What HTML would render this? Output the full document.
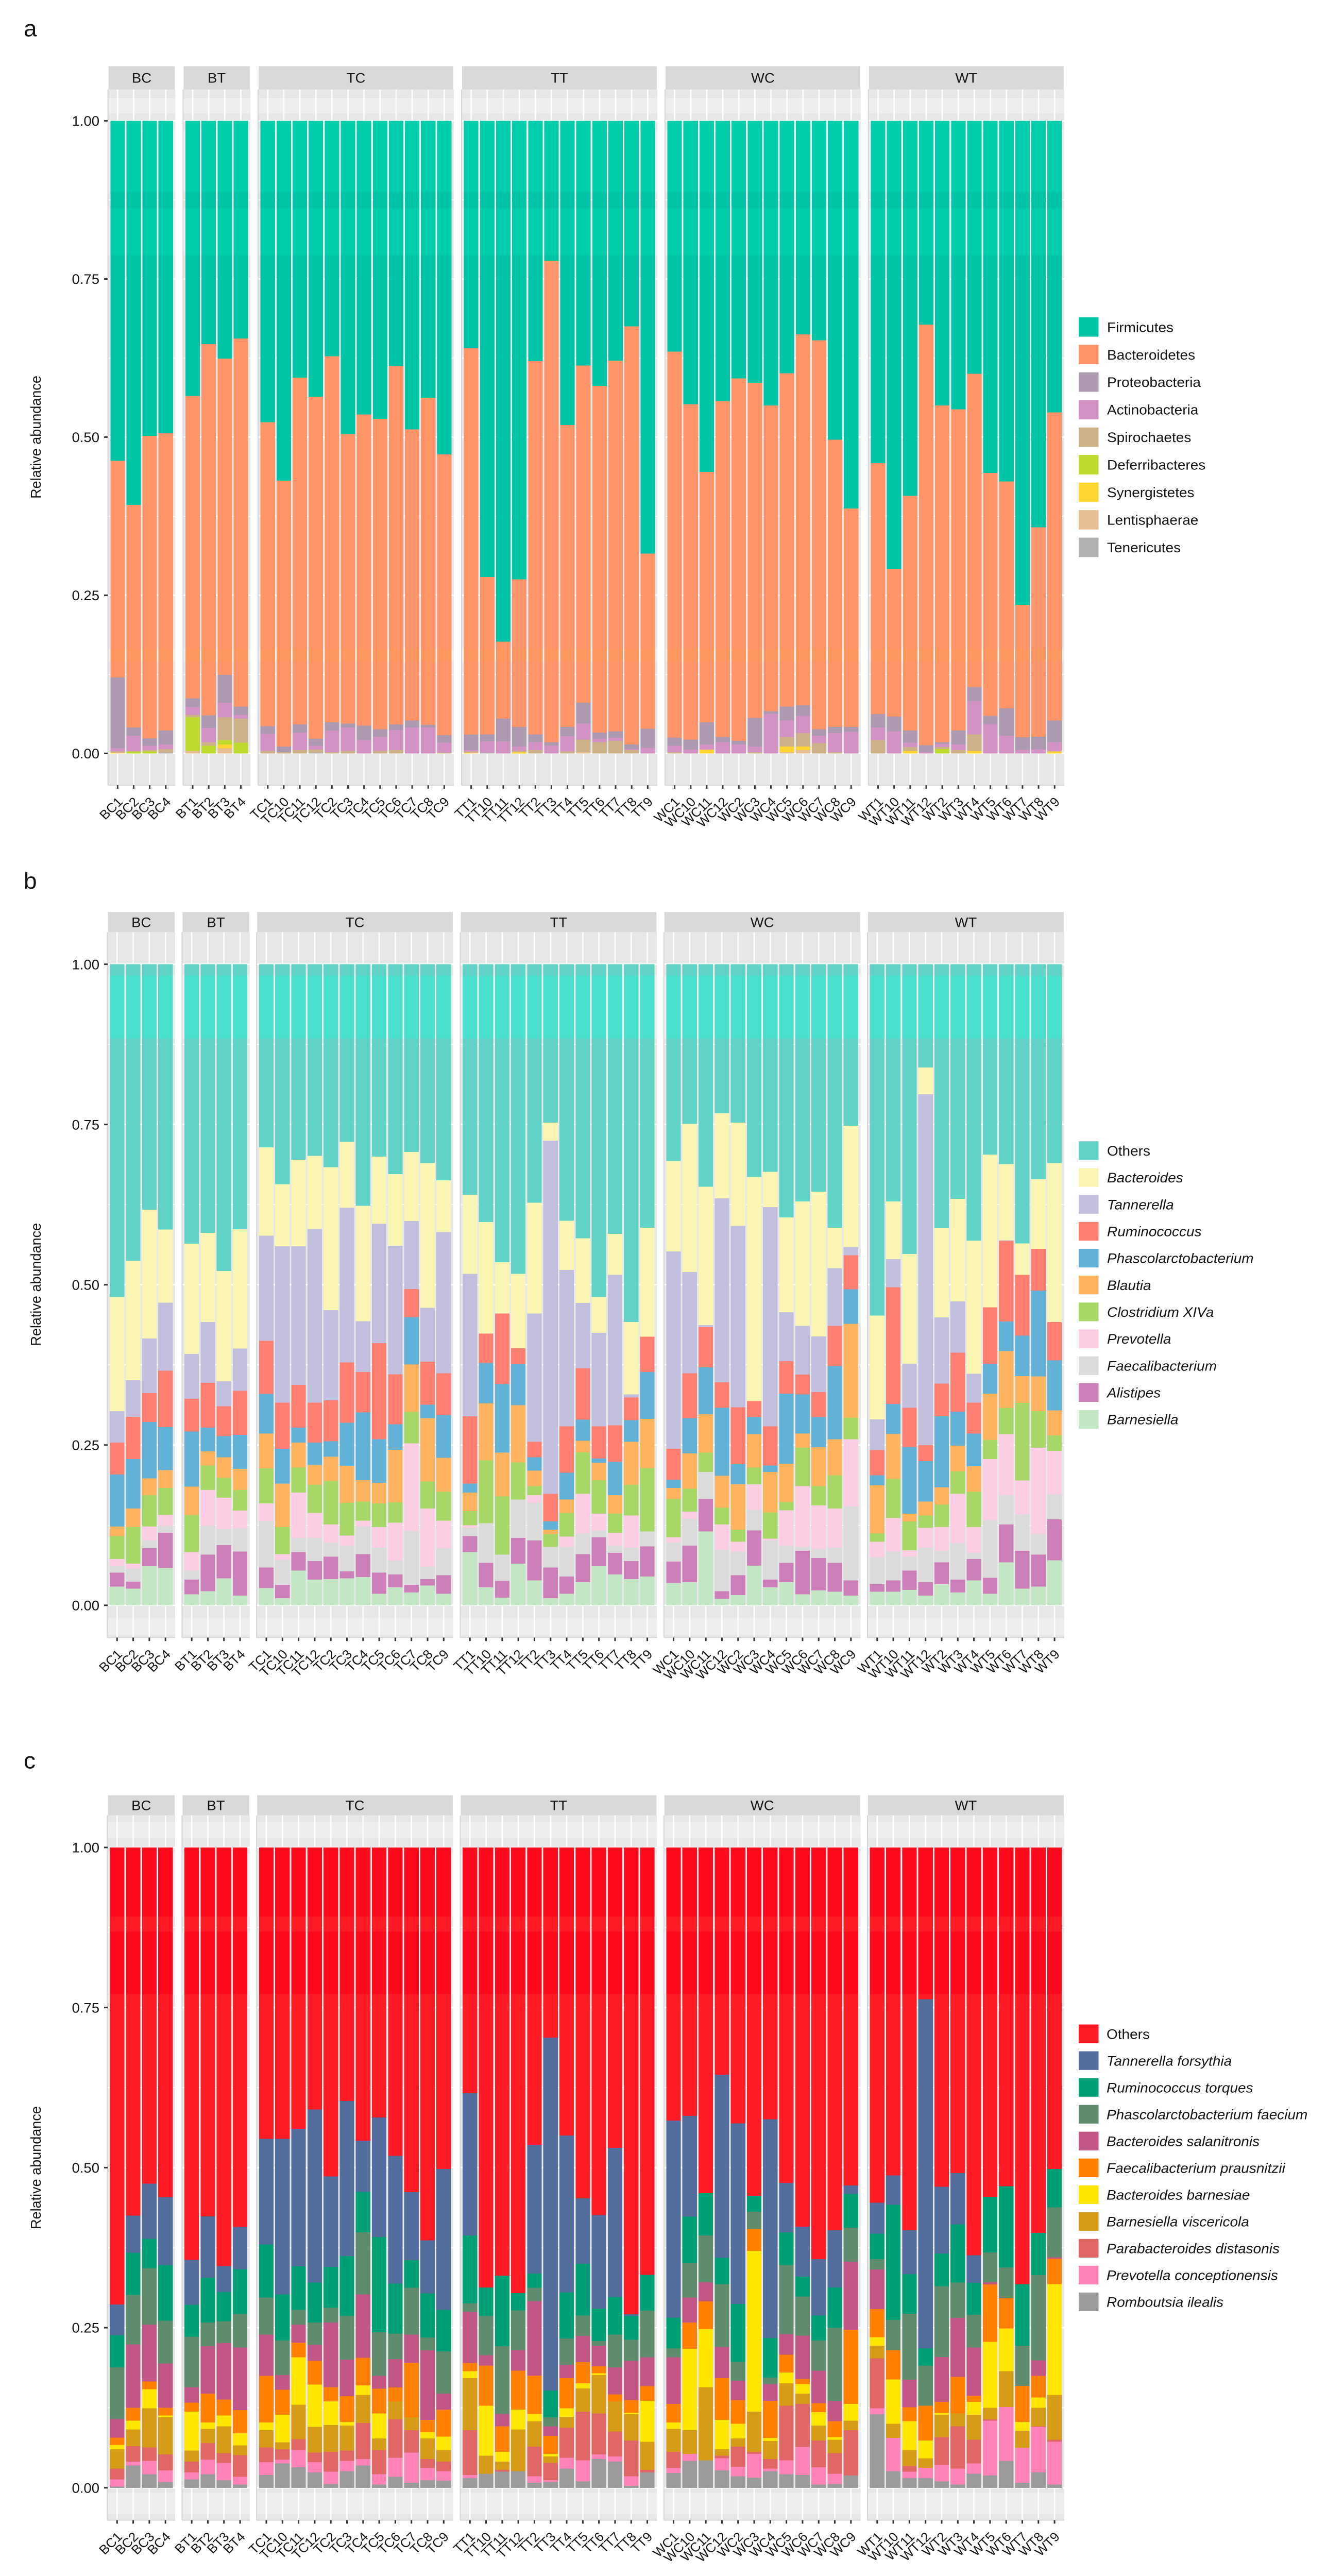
<!DOCTYPE html>
<html lang="en">
<head>
<meta charset="utf-8">
<title>Relative abundance stacked bars</title>
<style>
html,body{margin:0;padding:0;background:#fff;overflow:hidden}
#figure{position:absolute;left:0;top:0;display:block;overflow:hidden}
text{font-family:"Liberation Sans",Arial,sans-serif;fill:#141414}
</style>
</head>
<body>
<svg id="figure" width="2576" height="5180" viewBox="0 0 2576 5180" preserveAspectRatio="none" xmlns="http://www.w3.org/2000/svg">
<rect x="0" y="0" width="2576" height="5180" fill="#ffffff"/>
<text x="46" y="73" font-size="46">a</text>
<text x="46" y="1787" font-size="46">b</text>
<text x="46" y="3556" font-size="46">c</text>
<text transform="translate(79,879) rotate(-90)" text-anchor="middle" font-size="28">Relative abundance</text>
<text transform="translate(79,2583) rotate(-90)" text-anchor="middle" font-size="28">Relative abundance</text>
<text transform="translate(79,4359) rotate(-90)" text-anchor="middle" font-size="28">Relative abundance</text>
</svg>
<script>
const facetNames=['BC','BT','TC','TT','WC','WT'];
const sampleNames=['BC1','BC2','BC3','BC4','BT1','BT2','BT3','BT4',
'TC1','TC10','TC11','TC12','TC2','TC3','TC4','TC5','TC6','TC7','TC8','TC9',
'TT1','TT10','TT11','TT12','TT2','TT3','TT4','TT5','TT6','TT7','TT8','TT9',
'WC1','WC10','WC11','WC12','WC2','WC3','WC4','WC5','WC6','WC7','WC8','WC9',
'WT1','WT10','WT11','WT12','WT2','WT3','WT4','WT5','WT6','WT7','WT8','WT9'];
const yTickValues=[0,0.25,0.5,0.75,1];
const yTickLabels=['0.00','0.25','0.50','0.75','1.00'];
const yMinorValues=[0.125,0.375,0.625,0.875];

/* Panel a: phyla */
const phylumNames=['Firmicutes','Bacteroidetes','Proteobacteria','Actinobacteria','Spirochaetes','Deferribacteres','Synergistetes','Lentisphaerae','Tenericutes'];
const firmicutes=[.538,.607,.498,.494,.435,.353,.376,.344,.477,.569,.406,.436,.372,.495,.464,.471,.388,.488,.438,.528,.360,.721,.824,.725,.380,.221,.481,.387,.419,.379,.325,.684,.365,.448,.555,.443,.407,.414,.450,.399,.338,.347,.504,.613,.541,.708,.593,.322,.450,.456,.400,.557,.570,.765,.643,.461];
const bacteroidetes=[.343,.352,.478,.470,.478,.587,.500,.582,.481,.420,.548,.541,.579,.458,.492,.491,.567,.460,.518,.444,.612,.249,.122,.233,.590,.761,.477,.533,.548,.586,.661,.277,.610,.530,.396,.531,.573,.530,.484,.527,.587,.615,.454,.345,.397,.234,.371,.665,.532,.508,.495,.384,.359,.209,.331,.487];
const proteobacteria=[.112,.013,.012,.022,.014,.020,.044,.013,.012,.009,.013,.011,.013,.006,.023,.012,.009,.011,.004,.012,.0245,.011,.036,.031,.012,.006,.015,.033,.010,.010,.007,.030,.013,.016,.035,.008,.006,.045,.004,.022,.017,.010,.010,.008,.021,.023,.019,.011,.003,.022,.022,.013,.043,.020,.020,.034];
const actinobacteria=[.005,.025,.007,.007,.012,.022,.023,.006,.027,0,.028,.006,.034,.037,.021,.022,.032,.041,.041,.016,.002,.018,.019,.007,.013,.012,.024,.025,.005,.005,.002,.009,.010,.006,.008,.018,.014,.009,.0625,.026,.0275,.012,.030,.034,.020,.035,.007,.002,.005,.009,.053,.0465,.028,.0056,.0064,.015];
const spirochaetes=[.002,0,.002,.006,.004,.006,.036,.038,.004,.002,.005,.005,.002,.004,0,.004,.005,0,0,.001,.002,0,0,.002,.005,0,.003,.020,.018,.020,.005,0,.002,0,0,0,0,.002,0,.015,.021,.016,.002,0,.021,0,.006,0,.003,.005,.026,0,0,0,0,0];
const deferribacteres=[0,.003,.003,0,.053,.012,.007,.017,0,0,0,0,0,0,0,0,0,0,0,0,0,0,0,0,0,0,0,0,0,0,0,0,0,0,0,0,0,0,0,0,0,0,0,0,0,0,0,0,.007,0,0,0,0,0,0,0];
const synergistetes=[.001,0,0,0,0,0,.006,0,0,0,0,0,0,0,0,0,0,0,0,0,.001,0,0,.002,0,0,0,0,0,0,0,0,0,0,.006,0,0,0,0,.009,.006,0,0,0,0,0,.004,0,0,0,.004,0,0,0,0,.003];
const lentisphaerae=[0,0,0,0,.004,0,.008,0,0,0,0,0,0,0,0,0,0,0,0,0,0,0,0,0,0,0,0,.002,0,0,0,0,0,0,0,0,0,0,0,.002,.005,0,0,0,0,0,0,0,0,0,0,0,0,0,0,0];
const tenericutes=[0,0,0,.001,0,0,0,0,0,0,0,.001,0,0,0,0,0,0,0,0,0,.001,0,0,0,0,0,0,0,0,0,0,0,0,0,0,0,0,0,0,0,0,0,0,0,0,0,0,0,0,0,0,0,0,0,0];
const phylumColors=['#00C4A6','#FF9468','#AD9AB1','#D392C4','#CDB189','#BFDA2F','#FFD531','#E5BF93','#B1B3B2'];

/* Panel b: genera */
const genusNames=['Others','Bacteroides','Tannerella','Ruminococcus','Phascolarctobacterium','Blautia','Clostridium XIVa','Prevotella','Faecalibacterium','Alistipes','Barnesiella'];
const genusOthers=[.519,.463,.383,.414,.436,.419,.479,.414,.286,.343,.305,.299,.317,.277,.377,.300,.328,.293,.310,.337,.360,.402,.465,.483,.372,.247,.400,.428,.519,.421,.558,.411,.307,.249,.347,.232,.247,.332,.324,.395,.370,.355,.411,.252,.548,.370,.452,.161,.412,.366,.431,.297,.312,.436,.335,.310];
const genusBacteroides=[.178,.186,.201,.114,.172,.139,.172,.186,.138,.097,.135,.114,.223,.103,.180,.105,.112,.108,.226,.081,.123,.174,.080,.116,.173,.028,.077,.101,.056,.064,.113,.170,.141,.231,.216,.133,.161,.350,.055,.148,.194,.226,.063,.189,.162,.090,.171,.042,.139,.160,.208,.238,.119,.049,.109,.248];
const genusTannerella=[.049,.057,.085,.106,.070,.095,.039,.066,.164,.244,.216,.271,.141,.242,.079,.186,.201,.106,.084,.220,.222,0,0,0,.200,.551,.244,.102,.146,.235,.005,0,.308,.158,.003,.287,.283,0,.342,.076,.076,.087,.090,.013,.048,.044,.069,.547,.103,.080,.045,0,.001,0,0,0];
const genusRuminococcus=[.050,.066,.045,.088,.051,.070,.047,.069,.083,.072,.067,.062,.064,.094,.063,.150,.078,.044,.067,.065,.105,.046,.110,.025,.024,.043,.072,.080,.050,.057,.035,.055,.048,.070,.063,.040,.089,.025,.061,.051,.031,.039,.063,.053,.039,.182,.061,.025,.051,.092,.048,.088,.126,.095,.065,.060];
const genusPhascolarctobacterium=[.081,.077,.088,.067,.086,.037,.033,.053,.062,.054,.023,.035,.024,.067,.106,.068,.040,.074,.021,.067,.014,.063,.107,.064,.021,.013,.042,.033,.007,.052,.034,.073,.013,.055,.073,.106,.031,.027,.010,.109,.061,.047,.114,.054,.016,.047,.104,.063,.111,.053,.051,.047,.046,.063,.134,.078];
const genusBlautia=[.015,.029,.026,.028,.044,.022,.032,.033,.054,.068,.039,.031,.038,.058,.033,.032,.082,.074,.099,.053,.029,.089,.068,.089,.024,.007,.021,.018,.027,.029,.067,.077,.017,.055,.060,.050,.071,.052,.063,.060,.022,.061,.056,.146,.075,.070,.012,.022,.027,.040,.040,.072,.089,.042,.054,.039];
const genusClostridium=[.036,.057,.049,.042,.058,.038,.031,.032,.055,.042,.039,.044,.068,.051,.030,.037,.032,.049,.042,.045,.022,.098,.091,.058,.014,.020,.037,.065,.052,.030,.048,.099,.060,.036,.030,.026,.019,.026,.041,.013,.060,.030,.052,.034,.013,.061,.045,.019,.035,.035,.055,.030,.041,.121,.057,.024];
const genusPrevotella=[.011,.008,.022,.017,.029,.056,.049,.028,.027,.009,.071,.039,.028,.016,.009,.032,.059,.137,.091,.043,.004,0,0,0,.012,0,.016,.062,.026,.020,.050,0,.008,.011,0,.039,.015,.040,.003,.055,.095,.068,.061,.105,.024,.052,.010,.031,.037,.077,.040,.095,.095,.053,.135,.068];
const genusFaecalibacterium=[.010,.020,.012,.011,.014,.045,.025,.036,.073,.039,.022,.036,.022,.040,.043,.039,.022,.084,.019,.042,.013,.062,.041,.060,.059,.032,.046,.032,.011,.011,.021,.023,.030,.042,.042,.065,.037,.032,.061,.027,.006,.014,.024,.115,.042,.045,.022,.054,.018,.057,.010,.090,.046,.057,.032,.039];
const genusAlistipes=[.022,.011,.028,.055,.023,.057,.052,.069,.032,.021,.029,.029,.035,.011,.036,.033,.020,.012,.010,.029,.025,.038,.026,.040,.062,.048,.027,.044,.045,.034,.028,.047,.033,.057,.051,.012,.031,.055,.012,.030,.068,.051,.045,.024,.012,.018,.030,.021,.034,.020,.033,.025,.059,.059,.050,.064];
const genusBarnesiella=[.029,.026,.061,.058,.017,.022,.042,.015,.027,.011,.054,.040,.041,.042,.044,.018,.028,.020,.031,.018,.083,.028,.012,.065,.039,.011,.018,.036,.061,.048,.041,.045,.035,.036,.115,.010,.016,.062,.028,.036,.017,.023,.021,.015,.021,.021,.024,.015,.033,.020,.039,.018,.067,.026,.029,.070];
const genusColors=['#60D2C6','#FAF5B3','#C2BEDD','#FE7F72','#62B1D7','#FEB35F','#A7D766','#FCCDE3','#DBDBDB','#CC7FB9','#C3E7C4'];

/* Panel c: species */
const speciesNames=['Others','Tannerella forsythia','Ruminococcus torques','Phascolarctobacterium faecium','Bacteroides salanitronis','Faecalibacterium prausnitzii','Bacteroides barnesiae','Barnesiella viscericola','Parabacteroides distasonis','Prevotella conceptionensis','Romboutsia ilealis'];
const speciesOthers=[.713,.575,.525,.546,.644,.576,.654,.592,.455,.455,.440,.409,.514,.396,.458,.422,.482,.538,.614,.502,.384,.687,.668,.696,.464,.297,.450,.548,.574,.469,.729,.668,.427,.419,.540,.355,.431,.544,.425,.524,.593,.643,.598,.528,.555,.512,.598,.237,.530,.508,.637,.546,.529,.682,.602,.502];
const tannerellaForsythia=[.048,.058,.086,.106,.070,.096,.040,.066,.165,.243,.215,.270,.141,.242,.080,.187,.200,.106,.083,.220,.222,0,0,0,.201,.551,.245,.102,.146,.233,.003,0,.308,.157,0,.286,.282,0,.342,.077,.078,.088,.090,.013,.048,.046,.069,.545,.104,.080,.043,0,0,0,0,0];
const ruminococcusTorques=[.050,.066,.046,.087,.050,.070,.046,.070,.083,.072,.068,.062,.064,.094,.063,.149,.078,.043,.069,.065,.106,.045,.110,.027,.022,.042,.072,.081,.051,.059,.037,.056,.048,.072,.066,.041,.090,.025,.062,.051,.031,.039,.063,.053,.040,.180,.062,.027,.051,.091,.050,.087,.127,.096,.066,.060];
const phascolarctobacteriumFaecium=[.081,.077,.088,.067,.079,.037,.034,.052,.058,.054,.023,.035,.023,.068,.097,.068,.040,.073,.020,.066,.013,.061,.106,.062,.021,.014,.041,.032,.007,.051,.033,.073,.014,.054,.073,.098,.030,.027,.010,.108,.061,.047,.114,.053,.016,.047,.103,.063,.111,.055,.051,.047,.048,.063,.133,.078];
const bacteroidesSalanitronis=[.029,.099,.089,.069,.024,.074,.088,.098,.064,.023,.028,.025,.101,.057,.099,.020,.044,.044,.109,.025,.080,.016,.019,.032,.116,.015,.021,.041,.032,.042,.061,.045,.073,.039,.030,.049,.030,0,.026,.032,.068,.051,.032,.106,.062,0,.043,0,.070,.092,.075,.003,0,0,.024,.002];
const faecalibacteriumPrausnitzii=[.011,.020,.012,.012,.014,.045,.025,.036,.073,.039,.023,.037,.022,.040,.043,.039,.022,.085,.019,.042,.013,.063,.040,.061,.060,.028,.047,.033,.011,.011,.020,.023,.029,.041,.043,.065,.037,.034,.058,.028,.008,.014,.025,.116,.044,.046,.022,.054,.017,.057,.010,.090,.047,.056,.034,.040];
const bacteroidesBarnesiae=[.007,.014,.030,.003,.061,.010,.017,.019,.012,.043,.074,.066,.037,.006,.015,.039,0,0,.010,.021,.011,.078,.015,.031,.011,.004,.013,.008,.003,0,.002,.064,.010,.127,.091,.046,.023,.251,.005,.017,.015,.021,.004,.026,.013,.069,.045,.028,.003,0,.020,.103,.067,.014,.016,.173];
const barnesiellaViscericola=[.030,.026,.061,.058,.017,.022,.042,.015,.027,.011,.054,.040,.042,.039,.044,.018,.028,.020,.032,.018,.081,.028,.013,.065,.040,.010,.017,.036,.060,.047,.041,.044,.036,.037,.114,.010,.013,.063,.028,.035,.016,.023,.021,.015,.020,.022,.025,.015,.035,.020,.039,.018,.056,.027,.029,.070];
const parabacteroidesDistasonis=[.017,.024,.021,.025,.017,.026,.015,.034,.023,.016,.017,.015,.031,.016,.056,.038,.060,.035,.014,.015,.070,0,.003,0,.046,.027,.047,.076,.064,.039,.056,.004,.025,0,0,.004,.031,.003,.015,.085,.067,.042,.032,.071,.078,0,.009,0,.043,.066,.037,.002,0,0,.001,.003];
const prevotellaConceptionensis=[.011,.006,.021,.018,.011,.023,.027,.012,.020,.006,.027,.016,.019,.016,.010,.016,.030,.047,.019,.015,.005,0,0,0,.010,.003,.017,.033,.007,.008,.015,0,.008,.011,0,.019,.015,.037,.004,.022,.044,.027,.016,0,.009,.052,.010,.016,.026,.025,.016,.086,.084,.054,.071,.067];
const romboutsiaIlealis=[.002,.035,.021,.009,.013,.021,.012,.005,.020,.038,.032,.024,.006,.026,.035,.005,.017,.008,.012,.011,.015,.022,.025,.026,.008,.009,.030,.010,.045,.041,.003,.024,.023,.042,.043,.027,.018,.016,.026,.021,.020,.005,.006,.019,.115,.026,.015,.015,.010,.005,.022,.019,.042,.008,.024,.005];
const speciesColors=['#FF1B25','#536D9C','#00A077','#5F8C6D','#C25787','#FF8000','#FFE600','#D69C18','#E16767','#FF82B8','#9B9B9B'];

const phylumSeries=[firmicutes,bacteroidetes,proteobacteria,actinobacteria,spirochaetes,deferribacteres,synergistetes,lentisphaerae,tenericutes];
const genusSeries=[genusOthers,genusBacteroides,genusTannerella,genusRuminococcus,genusPhascolarctobacterium,genusBlautia,genusClostridium,genusPrevotella,genusFaecalibacterium,genusAlistipes,genusBarnesiella];
const speciesSeries=[speciesOthers,tannerellaForsythia,ruminococcusTorques,phascolarctobacteriumFaecium,bacteroidesSalanitronis,faecalibacteriumPrausnitzii,bacteroidesBarnesiae,barnesiellaViscericola,parabacteroidesDistasonis,prevotellaConceptionensis,romboutsiaIlealis];

const DARK='#E6E8E7',LIGHT='#EEEEEE';
const plots=[
 {id:'a',series:phylumSeries,names:phylumNames,colors:phylumColors,italic:false,
  left:209.6,unit:31.15,gap:14.9,y1:243,y0:1515,top:180,bottom:1579,stripTop:133,
  legendTop:638,legendStep:55.4,swatch:39,legendX:2149,
  bg:[[180,198,DARK],[198,228,LIGHT],[228,261,DARK],[261,386,LIGHT],[386,419,DARK],[419,513,LIGHT],[513,1304,DARK],[1304,1330,LIGHT],[1330,1579,DARK]],
  glow:[[243,386,'rgba(0,251,191,.2)'],[419,513,'rgba(0,251,191,.2)'],[1304,1330,'rgba(255,170,60,.15)']]},
 {id:'b',series:genusSeries,names:genusNames,colors:genusColors,italic:true,
  left:208.5,unit:31.3,gap:13.4,y1:1939,y0:3228,top:1874.5,bottom:3293,stripTop:1834,
  legendTop:2295,legendStep:54.05,swatch:37.5,legendX:2149,
  bg:[[1874.5,1962,DARK],[1962,2088,LIGHT],[2088,3254,DARK],[3254,3287,LIGHT],[3287,3293,DARK]],
  glow:[[1962,2088,'rgba(58,233,211,.6)']]},
 {id:'c',series:speciesSeries,names:speciesNames,colors:speciesColors,italic:true,
  left:208.5,unit:31.3,gap:13.4,y1:3715,y0:5002.6,top:3650.5,bottom:5067.7,stripTop:3610,
  legendTop:4071,legendStep:53.9,swatch:37.5,legendX:2148,
  bg:[[3650.5,3664,DARK],[3664,3696,LIGHT],[3696,3728,DARK],[3728,3854,LIGHT],[3854,3884,DARK],[3884,4010,LIGHT],[4010,5013,DARK],[5013,5055,LIGHT],[5055,5067.7,DARK]],
  glow:[[3715,3854,'rgba(255,0,25,.6)'],[3884,4010,'rgba(255,0,25,.6)']]}
];

const svg=document.getElementById('figure');
const NS='http://www.w3.org/2000/svg';
const frameHeight=(window.innerHeight>=4000&&window.innerHeight<5180)?window.innerHeight:5180;
svg.setAttribute('height',frameHeight);
svg.style.height=frameHeight+'px';
document.documentElement.style.width='2576px';
document.documentElement.style.height=frameHeight+'px';
document.body.style.width='2576px';
document.body.style.height=frameHeight+'px';
function node(tag,props){
  const el=document.createElementNS(NS,tag);
  for(const k in props){el.setAttribute(k,props[k]);}
  svg.appendChild(el);
  return el;
}
function slug(s){return s.toLowerCase().replace(/[^a-z0-9]+/g,'-');}

plots.forEach(function(p){
  const yScale=function(v){return p.y0-v*(p.y0-p.y1);};
  let panelLeft=p.left;
  facetNames.forEach(function(facet){
    const idx=[];
    sampleNames.forEach(function(s,i){if(s.slice(0,2)===facet){idx.push(i);}});
    const width=(idx.length+0.2)*p.unit;
    const left=panelLeft;
    const xScale=function(k){return left+(0.6+k)*p.unit;};

    p.bg.forEach(function(b){
      const r=node('rect',{x:left,y:b[0],width:width,height:b[1]-b[0],fill:b[2]});
      
      
    });
    yMinorValues.forEach(function(v){
      const g=node('line',{x1:left,x2:left+width,y1:yScale(v),y2:yScale(v),stroke:'#fff','stroke-width':1.5});
      
      
    });
    yTickValues.forEach(function(v){
      const g=node('line',{x1:left,x2:left+width,y1:yScale(v),y2:yScale(v),stroke:'#fff','stroke-width':3});
      
      
    });
    idx.forEach(function(si,k){
      const g=node('line',{x1:xScale(k),x2:xScale(k),y1:p.top,y2:p.bottom,stroke:'#fff','stroke-width':2.6});
      
      
    });

    const edgeL=node('line',{x1:left,x2:left,y1:p.top,y2:p.bottom,stroke:'#D6D6D6','stroke-width':2});
    
    
    const edgeB=node('line',{x1:left,x2:left+width,y1:p.bottom,y2:p.bottom,stroke:'#D6D6D6','stroke-width':2});
    
    

    const strip=node('rect',{x:left+1,y:p.stripTop,width:width-2,height:p.top-p.stripTop,fill:'#D9D9D9'});
    
    
    const stripText=node('text',{x:left+width/2,y:(p.stripTop+p.top)/2+10,'text-anchor':'middle','font-size':27.5});
    stripText.textContent=facet;
    
    

    idx.forEach(function(si,k){
      const cx=xScale(k);
      const barW=0.9*p.unit;
      let total=0;
      p.series.forEach(function(vals){total+=vals[si];});
      let acc=0;
      for(let j=p.series.length-1;j>=0;j--){
        const v=p.series[j][si]/total;
        if(v>0){
          const yTop=yScale(acc+v);
          const seg=node('rect',{x:cx-barW/2,y:yTop,width:barW,height:yScale(acc)-yTop,fill:p.colors[j],'shape-rendering':'crispEdges'});
          
          
        }
        acc+=v;
      }
      p.glow.forEach(function(b){
        const o=node('rect',{x:cx-barW/2,y:b[0],width:barW,height:b[1]-b[0],fill:b[2]});
        
        
      });

      const tick=node('line',{x1:cx,x2:cx,y1:p.bottom,y2:p.bottom+7,stroke:'#333','stroke-width':3});
      
      
      const lx=cx+11.5,ly=p.bottom+35;
      const lab=node('text',{x:lx,y:ly,'text-anchor':'end','font-size':26,transform:'rotate(-45 '+lx+' '+ly+')'});
      lab.textContent=sampleNames[si];
      
      
    });
    panelLeft=left+width+p.gap;
  });

  yTickValues.forEach(function(v,i){
    const t=node('line',{x1:202,x2:209,y1:yScale(v),y2:yScale(v),stroke:'#333','stroke-width':3});
    
    
    const l=node('text',{x:193,y:yScale(v)+10,'text-anchor':'end','font-size':27.5});
    l.textContent=yTickLabels[i];
    
    
  });

  p.names.forEach(function(name,i){
    const y=p.legendTop+i*p.legendStep;
    const sw=node('rect',{x:2094,y:y,width:38.5,height:p.swatch,fill:p.colors[i]});
    
    
    const props={x:p.legendX,y:y+p.swatch/2+10,'font-size':28};
    if(p.italic&&name!=='Others'){props['font-style']='italic';}
    const t=node('text',props);
    t.textContent=name;
    
    
  });
});
</script>
</body>
</html>
